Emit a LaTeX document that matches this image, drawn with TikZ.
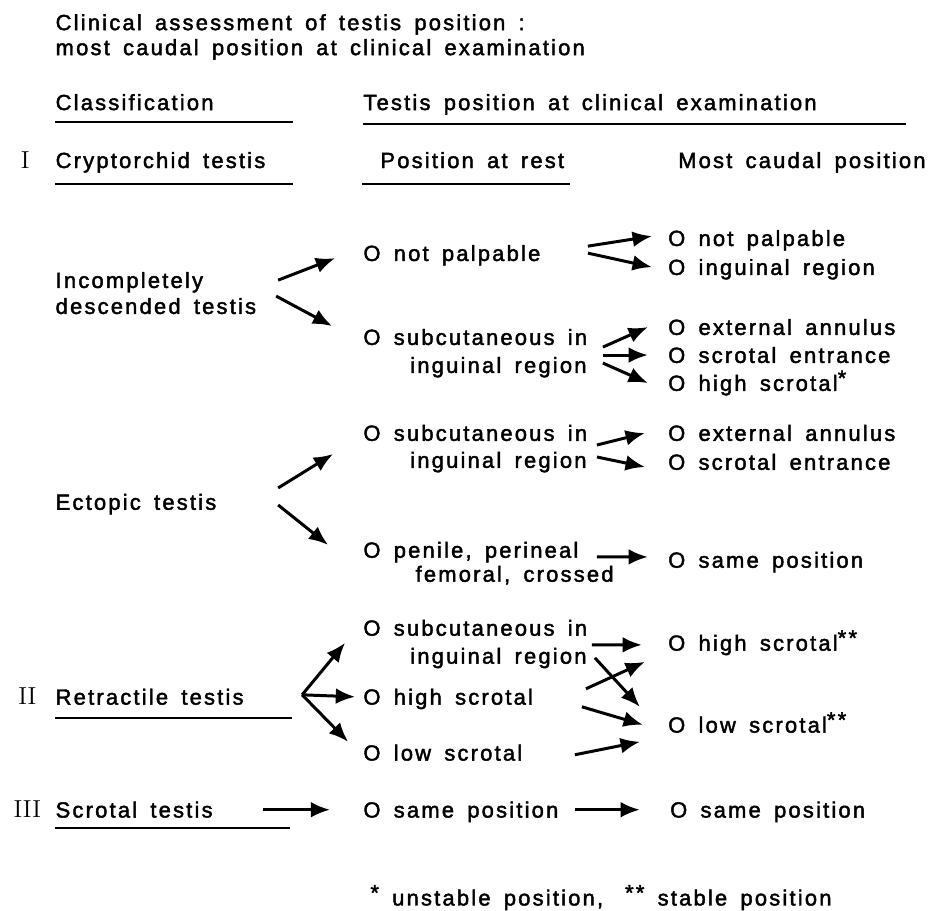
\documentclass[tikz,border=0pt]{standalone}
\usepackage{fontspec}
\setsansfont{Liberation Sans}[LetterSpace=10,WordSpace=1.6,FakeBold=2]
\usepackage{tikz}
\usetikzlibrary{arrows.meta}

\newcommand{\starmark}[1]{\raisebox{0.45ex}{#1}}

\begin{document}
\begin{tikzpicture}[font=\sffamily\fontsize{12.5}{15}\selectfont,
  lbl/.style={anchor=west,inner sep=0pt,text height=8.9pt,text depth=0pt},
  num/.style={inner sep=0pt,text height=8.9pt,text depth=0pt,font=\rmfamily\fontsize{14}{15}\selectfont},
  arr/.style={line width=1.7pt,-{Latex[length=11pt,width=9pt]}},
  uline/.style={line width=1pt}]
\draw[opacity=0] (0,0) rectangle (18.68,18.2);

% headings
\node[lbl] (title1) at (1.10,17.76) {Clinical assessment of testis position :};
\node[lbl] (title2) at (1.10,17.26) {most caudal position at clinical examination};
\node[lbl] (classif) at (1.10,16.16) {Classification};
\node[lbl] (exam) at (7.26,16.16) {Testis position at clinical examination};
\draw[uline] (1.10,15.76) -- (5.86,15.76);
\draw[uline] (7.26,15.72) -- (18.12,15.72);

\node[num] (numI) at (0.50,15.0) {I};
\node[lbl] (crypto) at (1.10,15.0) {Cryptorchid testis};
\node[lbl] (rest) at (7.60,15.0) {Position at rest};
\node[lbl] (caudal) at (13.56,15.0) {Most caudal position};
\draw[uline] (1.10,14.52) -- (5.86,14.52);
\draw[uline] (7.24,14.52) -- (11.40,14.52);

% incompletely descended
\node[lbl] (incomp1) at (1.10,12.60) {Incompletely};
\node[lbl] (incomp2) at (1.10,12.08) {descended testis};
\node[lbl] (np) at (7.26,13.14) {O not palpable};
\node[lbl] (sc1) at (7.26,11.46) {O subcutaneous in};
\node[lbl,anchor=east] (sc2) at (11.74,10.90) {inguinal region};
\node[lbl] (rnp) at (13.36,13.44) {O not palpable};
\node[lbl] (ring) at (13.36,12.86) {O inguinal region};
\node[lbl] (rext) at (13.36,11.66) {O external annulus};
\node[lbl] (rent) at (13.36,11.10) {O scrotal entrance};
\node[lbl] (rhigh) at (13.36,10.54) {O high scrotal\starmark{*}};

\draw[arr] ([shift={(4.46,0)}]incomp1.west) -- ([shift={(-0.56,-0.10)}]np.west);
\draw[arr] ([shift={(4.42,0.20)}]incomp2.west) -- ([shift={(-0.62,0.22)}]sc1.west);
\draw[arr] ([shift={(4.50,0.14)}]np.west) -- ([shift={(-0.32,0.04)}]rnp.west);
\draw[arr] ([shift={(4.50,0)}]np.west) -- ([shift={(-0.32,0)}]ring.west);
\draw[arr] ([shift={(4.80,-0.20)}]sc1.west) -- ([shift={(-0.40,0)}]rext.west);
\draw[arr] ([shift={(4.80,-0.36)}]sc1.west) -- ([shift={(-0.40,0)}]rent.west);
\draw[arr] ([shift={(4.80,-0.52)}]sc1.west) -- ([shift={(-0.40,0)}]rhigh.west);

% ectopic
\node[lbl] (ect) at (1.10,8.16) {Ectopic testis};
\node[lbl] (esc1) at (7.26,9.54) {O subcutaneous in};
\node[lbl,anchor=east] (esc2) at (11.74,9.00) {inguinal region};
\node[lbl] (pen1) at (7.26,7.20) {O penile, perineal};
\node[lbl,anchor=east] (pen2) at (12.28,6.72) {femoral, crossed};
\node[lbl] (rext2) at (13.36,9.54) {O external annulus};
\node[lbl] (rent2) at (13.36,8.96) {O scrotal entrance};
\node[lbl] (rsame1) at (13.36,7.00) {O same position};

\draw[arr] ([shift={(4.46,0.28)}]ect.west) -- ([shift={(-0.60,-0.42)}]esc1.west);
\draw[arr] ([shift={(4.46,-0.06)}]ect.west) -- ([shift={(-0.70,0.10)}]pen1.west);
\draw[arr] ([shift={(4.68,-0.24)}]esc1.west) -- ([shift={(-0.46,0)}]rext2.west);
\draw[arr] ([shift={(4.68,-0.48)}]esc1.west) -- ([shift={(-0.46,-0.10)}]rent2.west);
\draw[arr] ([shift={(4.68,-0.14)}]pen1.west) -- ([shift={(-0.40,0.06)}]rsame1.west);

% retractile
\node[num] (numII) at (0.54,4.26) {II};
\node[lbl] (retr) at (1.10,4.26) {Retractile testis};
\draw[uline] (1.10,3.84) -- (5.84,3.84);
\coordinate (fork) at ([shift={(4.94,0.04)}]retr.west);
\node[lbl] (rsc1) at (7.26,5.64) {O subcutaneous in};
\node[lbl,anchor=east] (rsc2) at (11.74,5.08) {inguinal region};
\node[lbl] (rhs) at (7.26,4.26) {O high scrotal};
\node[lbl] (rls) at (7.26,3.14) {O low scrotal};
\node[lbl] (fhs) at (13.36,5.34) {O high scrotal\starmark{**}};
\node[lbl] (fls) at (13.36,3.70) {O low scrotal\starmark{**}};

\draw[arr] (fork) -- ([shift={(-0.36,-0.30)}]rsc1.west);
\draw[arr] (fork) -- ([shift={(-0.16,0)}]rhs.west);
\draw[arr] (fork) -- ([shift={(-0.30,0.22)}]rls.west);
\draw[arr] ([shift={(4.58,-0.34)}]rsc1.west) -- ([shift={(-0.52,-0.04)}]fhs.west);
\draw[arr] ([shift={(4.64,-0.60)}]rsc1.west) -- ([shift={(-0.56,0.36)}]fls.west);
\draw[arr] ([shift={(4.46,0.16)}]rhs.west) -- ([shift={(-0.46,-0.38)}]fhs.west);
\draw[arr] ([shift={(4.38,-0.20)}]rhs.west) -- ([shift={(-0.50,0)}]fls.west);
\draw[arr] ([shift={(4.24,-0.04)}]rls.west) -- ([shift={(-0.56,-0.34)}]fls.west);

% scrotal
\node[num] (numIII) at (0.54,2.00) {III};
\node[lbl] (scr) at (1.10,2.00) {Scrotal testis};
\draw[uline] (1.10,1.64) -- (5.80,1.64);
\node[lbl] (same1) at (7.26,2.00) {O same position};
\node[lbl] (same2) at (13.40,2.00) {O same position};
\draw[arr] ([shift={(4.16,0)}]scr.west) -- ([shift={(-0.66,0)}]same1.west);
\draw[arr] ([shift={(4.24,0)}]same1.west) -- ([shift={(-0.60,0)}]same2.west);

\node[lbl] (foot) at (7.40,0.24) {\starmark{*} unstable position,\quad \starmark{**} stable position};
\end{tikzpicture}
\end{document}
